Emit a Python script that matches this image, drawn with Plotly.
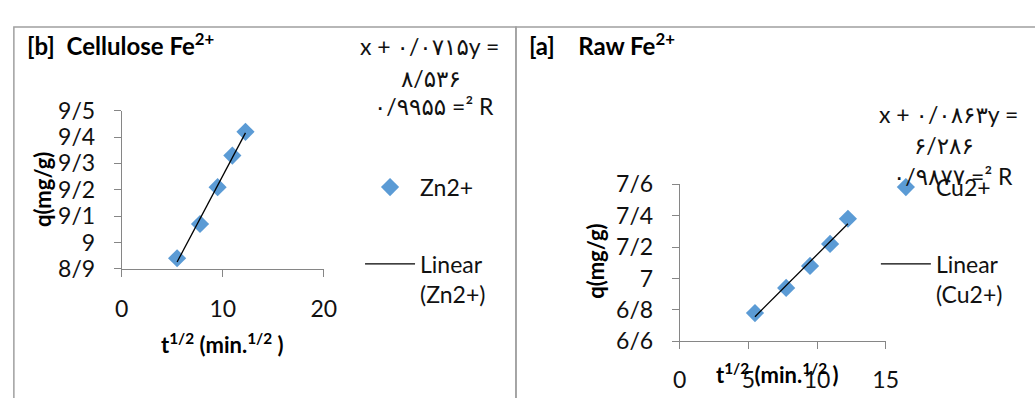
import numpy as np
import plotly.graph_objects as go

# ---------------- data ----------------
t_half = [5.48, 7.75, 9.49, 10.95, 12.25]          # t^(1/2), min^(1/2)
q_cellulose_zn = [8.94, 9.07, 9.21, 9.33, 9.42]    # panel [b]
q_raw_cu = [6.78, 6.94, 7.08, 7.22, 7.38]          # panel [a]

left_xticks = [0, 10, 20]
left_yticks = [8.9, 9.0, 9.1, 9.2, 9.3, 9.4, 9.5]
left_yticktext = ["8/9", "9", "9/1", "9/2", "9/3", "9/4", "9/5"]

right_xticks = [0, 5, 10, 15]
right_yticks = [6.6, 6.8, 7.0, 7.2, 7.4, 7.6]
right_yticktext = ["6/6", "6/8", "7", "7/2", "7/4", "7/6"]

left_eq = ["x + ۰/۰۷۱۵y =", "۸/۵۳۶", "۰/۹۹۵۵ =² R"]
right_eq = ["x + ۰/۰۸۶۳y =", "۶/۲۸۶", "۰/۹۸۷۷ =² R"]

W, H = 1035, 398
FONT = "Lato, 'DejaVu Sans', sans-serif"
BLUE = "#5B9BD5"
AXC = "#868686"


def px(x):
    return x / W


def py(y):
    return 1 - y / H


def fit_line(x, y):
    k, b = np.polyfit(x, y, 1)
    xs = np.array([min(x), max(x)])
    return xs, k * xs + b


fig = go.Figure()

# left panel
fig.add_trace(go.Scatter(x=t_half, y=q_cellulose_zn, mode="markers", name="Zn2+",
                         marker=dict(symbol="diamond", size=14, color=BLUE),
                         xaxis="x", yaxis="y", legend="legend", legendgroup="a"))
lx, ly = fit_line(t_half, q_cellulose_zn)
fig.add_trace(go.Scatter(x=lx, y=ly, mode="lines", name="Linear<br>(Zn2+)",
                         line=dict(color="black", width=1.3),
                         xaxis="x", yaxis="y", legend="legend", legendgroup="b"))

# right panel
fig.add_trace(go.Scatter(x=t_half, y=q_raw_cu, mode="markers", name="Cu2+",
                         marker=dict(symbol="diamond", size=14, color=BLUE),
                         xaxis="x2", yaxis="y2", legend="legend2", legendgroup="c"))
rx, ry = fit_line(t_half, q_raw_cu)
fig.add_trace(go.Scatter(x=rx, y=ry, mode="lines", name="Linear<br>(Cu2+)",
                         line=dict(color="black", width=1.3),
                         xaxis="x2", yaxis="y2", legend="legend2", legendgroup="d"))

TICKSIZE = 23
axis_common = dict(showline=True, linecolor=AXC, linewidth=1, ticks="outside",
                   ticklen=7, tickcolor=AXC, showgrid=False, zeroline=False,
                   tickfont=dict(family=FONT, size=TICKSIZE, color="#111"))

legend_common = dict(font=dict(family=FONT, size=TICKSIZE, color="#111"), bgcolor="rgba(0,0,0,0)",
                     valign="top", traceorder="grouped", tracegroupgap=44, itemwidth=50,
                     xanchor="left", yanchor="top")

fig.update_layout(
    width=W, height=H, margin=dict(l=0, r=0, t=0, b=0),
    paper_bgcolor="white", plot_bgcolor="white",
    xaxis=dict(domain=[px(117), px(323)], range=[0, 20], tickvals=left_xticks,
               anchor="y", ticklabelstandoff=13, **axis_common),
    yaxis=dict(domain=[py(273), py(103)], range=[8.9, 9.5], tickvals=left_yticks,
               ticktext=left_yticktext, anchor="x", ticklabelstandoff=14, **axis_common),
    xaxis2=dict(domain=[px(686), px(896)], range=[0, 15], tickvals=right_xticks,
                anchor="y2", ticklabelstandoff=11, **axis_common),
    yaxis2=dict(domain=[py(351), py(182)], range=[6.6, 7.6], tickvals=right_yticks,
                ticktext=right_yticktext, anchor="x2", ticklabelstandoff=14, **axis_common),
    legend=dict(x=px(360), y=py(162), **legend_common),
    legend2=dict(x=px(886), y=py(162), **legend_common),
    showlegend=True,
)

# panel borders
for x0, x1 in [(7, 519), (519, 1060)]:
    fig.add_shape(type="rect", xref="paper", yref="paper", x0=px(x0), x1=px(x1),
                  y0=py(440), y1=py(13), line=dict(color="#a0a0a0", width=1.5),
                  layer="below")

ann = []
TITLE_FONT = dict(family=FONT, size=24, color="black")
ann.append(dict(text="<b>[b]\u00a0\u00a0Cellulose Fe<sup>2+</sup></b>", x=px(18), y=py(31),
                xanchor="left", yanchor="middle", font=TITLE_FONT))
ann.append(dict(text="<b>[a]\u00a0\u00a0\u00a0\u00a0Raw Fe<sup>2+</sup></b>", x=px(530), y=py(31),
                xanchor="left", yanchor="middle", font=TITLE_FONT))

EQ_FONT = dict(family=FONT, size=23, color="#111")
for txt, (cx, cy) in zip(left_eq, [(431, 33), (432, 68), (435, 98)]):
    ann.append(dict(text=txt, x=px(cx), y=py(cy), xanchor="center", yanchor="middle", font=EQ_FONT))
for txt, (cx, cy) in zip(right_eq, [(960, 106), (955, 140), (965, 173)]):
    ann.append(dict(text=txt, x=px(cx), y=py(cy), xanchor="center", yanchor="middle", font=EQ_FONT))

AX_FONT = dict(family=FONT, size=22, color="black")
ann.append(dict(text="<b>q(mg/g)</b>", x=px(36), y=py(188), textangle=-90,
                xanchor="center", yanchor="middle", font=AX_FONT))
ann.append(dict(text="<b>q(mg/g)</b>", x=px(600), y=py(265), textangle=-90,
                xanchor="center", yanchor="middle", font=AX_FONT))
ann.append(dict(text="<b>t<sup>1/2</sup> (min.<sup>1/2</sup> )</b>", x=px(220), y=py(353),
                xanchor="center", yanchor="middle", font=AX_FONT))
ann.append(dict(text="<b>t<sup>1/2</sup> (min.<sup>1/2</sup> )</b>", x=px(786), y=py(386),
                xanchor="center", yanchor="middle", font=AX_FONT))

for a in ann:
    a.update(xref="paper", yref="paper", showarrow=False)
fig.update_layout(annotations=ann)

fig.write_html("out.html")
